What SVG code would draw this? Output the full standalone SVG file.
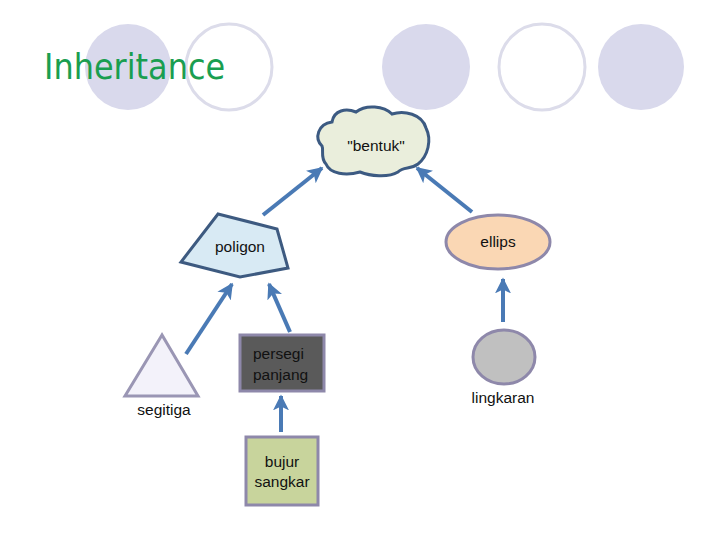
<svg xmlns="http://www.w3.org/2000/svg" width="720" height="540" viewBox="0 0 720 540">
<defs>
<marker id="ah" viewBox="0 0 10 10" refX="9" refY="5" markerWidth="4" markerHeight="4" orient="auto" markerUnits="strokeWidth">
<path d="M0,0 L10,5 L0,10 L2.5,5 z" fill="#4a7ab5"/>
</marker>
<style>
.deco{fill:#d9d9ec}
.decow{fill:#fff;stroke:#dcdcea;stroke-width:3}
.lbl{font-family:"Liberation Sans",Arial,sans-serif;font-size:15.5px;fill:#111}
.conn{stroke:#4a7ab5;stroke-width:4;fill:none;marker-end:url(#ah)}
.shp{stroke:#8e88aa;stroke-width:3}
</style>
</defs>
<rect width="720" height="540" fill="#fff"/>
<g id="decor">
<ellipse class="deco" cx="128" cy="67" rx="43" ry="43"/>
<ellipse class="decow" cx="229" cy="67" rx="43" ry="43"/>
<ellipse class="deco" cx="426" cy="67" rx="44" ry="43"/>
<ellipse class="decow" cx="542" cy="67" rx="43" ry="43"/>
<ellipse class="deco" cx="641" cy="67" rx="43" ry="43"/>
</g>
<text x="44" y="79" font-family="'DejaVu Sans Condensed','Liberation Sans Narrow',sans-serif" font-size="35.5" fill="#1a9e50">Inheritance</text>
<g id="connectors">
<line class="conn" x1="263" y1="215" x2="322" y2="168"/>
<line class="conn" x1="472" y1="212" x2="417" y2="168"/>
<line class="conn" x1="186" y1="354" x2="232" y2="284"/>
<line class="conn" x1="290" y1="332" x2="269" y2="284"/>
<line class="conn" x1="503" y1="322" x2="503" y2="279"/>
<line class="conn" x1="281" y1="432" x2="281" y2="396"/>
</g>
<g id="bentuk">
<path d="M332,122 C334,110 346,108 356,112 C366,104 384,106 392,114 C404,110 422,114 426,128 C432,140 428,156 418,164 C410,170 404,166 398,172 C388,178 370,176 360,172 C346,176 330,174 326,164 C320,158 324,150 322,146 C314,138 318,124 332,122 Z" fill="#eaeedc" stroke="#3c5a82" stroke-width="3"/>
<text class="lbl" x="376" y="151" text-anchor="middle">"bentuk"</text>
</g>
<g id="poligon">
<polygon points="218,214 277,229 288,268 240,277 181,262" fill="#d8eaf4" stroke="#3d5a80" stroke-width="3"/>
<text class="lbl" x="240" y="252" text-anchor="middle">poligon</text>
</g>
<g id="ellips">
<ellipse cx="498" cy="242" rx="52" ry="27" fill="#fad7b4" class="shp"/>
<text class="lbl" x="498" y="247" text-anchor="middle">ellips</text>
</g>
<g id="segitiga">
<polygon points="162,335 125,396 198,396" fill="#f3f2fa" stroke="#9a96b4" stroke-width="3"/>
<text class="lbl" x="164" y="415" text-anchor="middle">segitiga</text>
</g>
<g id="persegi-panjang">
<rect x="240" y="335" width="84" height="56" fill="#5a5a5a" class="shp"/>
<text class="lbl" x="253" y="359">persegi</text>
<text class="lbl" x="253" y="380">panjang</text>
</g>
<g id="bujur-sangkar">
<rect x="246" y="437" width="72" height="68" fill="#c8d49c" class="shp"/>
<text class="lbl" x="282" y="467" text-anchor="middle">bujur</text>
<text class="lbl" x="282" y="487" text-anchor="middle">sangkar</text>
</g>
<g id="lingkaran">
<ellipse cx="504" cy="357" rx="31" ry="27" fill="#c0c0c0" class="shp"/>
<text class="lbl" x="503" y="403" text-anchor="middle">lingkaran</text>
</g>
</svg>
